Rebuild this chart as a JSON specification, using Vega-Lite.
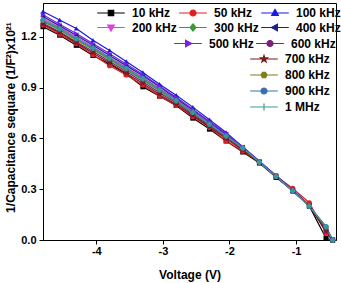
{
  "$schema": "https://vega.github.io/schema/vega-lite/v6.json",
  "autosize": {"type": "none"},
  "width": 293,
  "height": 237,
  "padding": {"left": 43, "top": 3, "right": 5, "bottom": 43},
  "data": {"values": [
    {"V": -4.8, "10 kHz": 1.26, "50 kHz": 1.27, "100 kHz": 1.35, "200 kHz": 1.31, "300 kHz": 1.29, "400 kHz": 1.32, "500 kHz": 1.33, "600 kHz": 1.28, "700 kHz": 1.275, "800 kHz": 1.295, "900 kHz": 1.30, "1 MHz": 1.30},
    {"V": -4.55, "10 kHz": 1.21, "50 kHz": 1.215, "100 kHz": 1.30, "200 kHz": 1.255, "300 kHz": 1.24, "400 kHz": 1.265, "500 kHz": 1.275, "600 kHz": 1.23, "700 kHz": 1.225, "800 kHz": 1.245, "900 kHz": 1.25, "1 MHz": 1.248},
    {"V": -4.3, "10 kHz": 1.15, "50 kHz": 1.16, "100 kHz": 1.25, "200 kHz": 1.20, "300 kHz": 1.18, "400 kHz": 1.21, "500 kHz": 1.22, "600 kHz": 1.17, "700 kHz": 1.165, "800 kHz": 1.185, "900 kHz": 1.19, "1 MHz": 1.19},
    {"V": -4.05, "10 kHz": 1.09, "50 kHz": 1.095, "100 kHz": 1.18, "200 kHz": 1.14, "300 kHz": 1.125, "400 kHz": 1.15, "500 kHz": 1.16, "600 kHz": 1.115, "700 kHz": 1.105, "800 kHz": 1.13, "900 kHz": 1.135, "1 MHz": 1.133},
    {"V": -3.8, "10 kHz": 1.04, "50 kHz": 1.03, "100 kHz": 1.12, "200 kHz": 1.08, "300 kHz": 1.065, "400 kHz": 1.09, "500 kHz": 1.10, "600 kHz": 1.055, "700 kHz": 1.045, "800 kHz": 1.07, "900 kHz": 1.075, "1 MHz": 1.073},
    {"V": -3.55, "10 kHz": 0.98, "50 kHz": 0.975, "100 kHz": 1.055, "200 kHz": 1.02, "300 kHz": 1.005, "400 kHz": 1.03, "500 kHz": 1.04, "600 kHz": 0.995, "700 kHz": 0.985, "800 kHz": 1.01, "900 kHz": 1.015, "1 MHz": 1.013},
    {"V": -3.3, "10 kHz": 0.905, "50 kHz": 0.915, "100 kHz": 0.99, "200 kHz": 0.96, "300 kHz": 0.945, "400 kHz": 0.97, "500 kHz": 0.978, "600 kHz": 0.935, "700 kHz": 0.925, "800 kHz": 0.95, "900 kHz": 0.955, "1 MHz": 0.953},
    {"V": -3.05, "10 kHz": 0.85, "50 kHz": 0.85, "100 kHz": 0.92, "200 kHz": 0.895, "300 kHz": 0.88, "400 kHz": 0.905, "500 kHz": 0.91, "600 kHz": 0.87, "700 kHz": 0.86, "800 kHz": 0.885, "900 kHz": 0.89, "1 MHz": 0.888},
    {"V": -2.8, "10 kHz": 0.795, "50 kHz": 0.795, "100 kHz": 0.855, "200 kHz": 0.83, "300 kHz": 0.815, "400 kHz": 0.838, "500 kHz": 0.843, "600 kHz": 0.81, "700 kHz": 0.80, "800 kHz": 0.82, "900 kHz": 0.825, "1 MHz": 0.823},
    {"V": -2.55, "10 kHz": 0.72, "50 kHz": 0.73, "100 kHz": 0.785, "200 kHz": 0.76, "300 kHz": 0.748, "400 kHz": 0.768, "500 kHz": 0.773, "600 kHz": 0.742, "700 kHz": 0.735, "800 kHz": 0.752, "900 kHz": 0.755, "1 MHz": 0.754},
    {"V": -2.3, "10 kHz": 0.655, "50 kHz": 0.665, "100 kHz": 0.71, "200 kHz": 0.69, "300 kHz": 0.68, "400 kHz": 0.697, "500 kHz": 0.70, "600 kHz": 0.675, "700 kHz": 0.668, "800 kHz": 0.683, "900 kHz": 0.685, "1 MHz": 0.684},
    {"V": -2.05, "10 kHz": 0.585, "50 kHz": 0.585, "100 kHz": 0.635, "200 kHz": 0.62, "300 kHz": 0.61, "400 kHz": 0.625, "500 kHz": 0.628, "600 kHz": 0.605, "700 kHz": 0.598, "800 kHz": 0.613, "900 kHz": 0.615, "1 MHz": 0.614},
    {"V": -1.8, "10 kHz": 0.52, "50 kHz": 0.525, "100 kHz": 0.55, "200 kHz": 0.545, "300 kHz": 0.54, "400 kHz": 0.548, "500 kHz": 0.55, "600 kHz": 0.537, "700 kHz": 0.532, "800 kHz": 0.542, "900 kHz": 0.545, "1 MHz": 0.544},
    {"V": -1.55, "10 kHz": 0.455, "50 kHz": 0.46, "100 kHz": 0.465, "200 kHz": 0.462, "300 kHz": 0.458, "400 kHz": 0.463, "500 kHz": 0.465, "600 kHz": 0.457, "700 kHz": 0.457, "800 kHz": 0.459, "900 kHz": 0.46, "1 MHz": 0.46},
    {"V": -1.3, "10 kHz": 0.37, "50 kHz": 0.38, "100 kHz": 0.38, "200 kHz": 0.378, "300 kHz": 0.376, "400 kHz": 0.378, "500 kHz": 0.38, "600 kHz": 0.375, "700 kHz": 0.374, "800 kHz": 0.376, "900 kHz": 0.375, "1 MHz": 0.376},
    {"V": -1.05, "10 kHz": 0.29, "50 kHz": 0.305, "100 kHz": 0.295, "200 kHz": 0.292, "300 kHz": 0.29, "400 kHz": 0.292, "500 kHz": 0.293, "600 kHz": 0.29, "700 kHz": 0.292, "800 kHz": 0.29, "900 kHz": 0.29, "1 MHz": 0.29},
    {"V": -0.8, "10 kHz": 0.20, "50 kHz": 0.22, "100 kHz": 0.205, "200 kHz": 0.202, "300 kHz": 0.20, "400 kHz": 0.203, "500 kHz": 0.204, "600 kHz": 0.20, "700 kHz": 0.205, "800 kHz": 0.20, "900 kHz": 0.20, "1 MHz": 0.20},
    {"V": -0.55, "10 kHz": 0.01, "50 kHz": 0.04, "100 kHz": 0.06, "200 kHz": 0.07, "300 kHz": 0.07, "400 kHz": 0.06, "500 kHz": 0.05, "600 kHz": 0.06, "700 kHz": 0.05, "800 kHz": 0.075, "900 kHz": 0.08, "1 MHz": 0.08},
    {"V": -0.45, "10 kHz": 0, "50 kHz": 0, "100 kHz": 0, "200 kHz": 0, "300 kHz": 0, "400 kHz": 0, "500 kHz": 0, "600 kHz": 0, "700 kHz": 0, "800 kHz": 0, "900 kHz": 0, "1 MHz": 0}
  ]},
  "transform": [
    {"fold": ["10 kHz", "50 kHz", "100 kHz", "200 kHz", "300 kHz", "400 kHz", "500 kHz", "600 kHz", "700 kHz", "800 kHz", "900 kHz", "1 MHz"], "as": ["freq", "C"]}
  ],
  "encoding": {
    "x": {"field": "V", "type": "quantitative", "scale": {"domain": [-4.8, -0.4], "nice": false, "zero": false},
      "axis": {"title": "Voltage (V)", "values": [-4, -3, -2, -1], "labelExpr": "toString(datum.value)", "grid": false, "tickSize": 4, "labelPadding": 1, "titlePadding": 13}},
    "y": {"field": "C", "type": "quantitative", "scale": {"domain": [0, 1.4], "nice": false},
      "axis": {"title": "1/Capacitance sequare (1/F²)x10²¹", "values": [0, 0.3, 0.6, 0.9, 1.2], "format": ".1f", "grid": false, "tickSize": 4, "labelPadding": 3, "titlePadding": 3, "titleY": 114}}
  },
  "layer": [
    {
      "layer": [
        {"mark": {"type": "line", "strokeWidth": 1.2},
         "encoding": {"color": {"field": "freq", "type": "nominal", "legend": null,
            "scale": {"domain": ["10 kHz", "50 kHz", "100 kHz", "200 kHz", "300 kHz", "400 kHz", "500 kHz", "600 kHz", "700 kHz", "800 kHz", "900 kHz", "1 MHz"],
                      "range": ["#000000", "#e02020", "#1a1ae0", "#e040e0", "#3c9a3c", "#202080", "#7b1fe8", "#7a1f7a", "#7a1a1a", "#7f7f1a", "#3a6eb0", "#3a9a9a"]}}}},
        {"mark": {"type": "point", "filled": true, "size": 26, "opacity": 1},
         "encoding": {"color": {"field": "freq", "type": "nominal", "legend": null,
            "scale": {"domain": ["10 kHz", "50 kHz", "100 kHz", "200 kHz", "300 kHz", "400 kHz", "500 kHz", "600 kHz", "700 kHz", "800 kHz", "900 kHz", "1 MHz"],
                      "range": ["#000000", "#e02020", "#1a1ae0", "#e040e0", "#3c9a3c", "#202080", "#7b1fe8", "#7a1f7a", "#7a1a1a", "#7f7f1a", "#3a6eb0", "#3a9a9a"]}},
           "shape": {"field": "freq", "type": "nominal", "legend": null,
            "scale": {"domain": ["10 kHz", "50 kHz", "100 kHz", "200 kHz", "300 kHz", "400 kHz", "500 kHz", "600 kHz", "700 kHz", "800 kHz", "900 kHz", "1 MHz"],
                      "range": ["square", "circle", "triangle-up", "triangle-down", "diamond", "triangle-left", "triangle-right", "circle", "M0,-1.2L0.28,-0.37L1.14,-0.37L0.45,0.14L0.71,0.97L0,0.46L-0.71,0.97L-0.45,0.14L-1.14,-0.37L-0.28,-0.37Z", "M1,0L0.5,0.87L-0.5,0.87L-1,0L-0.5,-0.87L0.5,-0.87Z", "circle", "cross"]}}}}
      ]
    },
    {
      "transform": [{"filter": {"field": "freq", "oneOf": ["10 kHz", "50 kHz", "100 kHz", "200 kHz", "300 kHz", "400 kHz"]}}],
      "mark": {"type": "point", "filled": true, "opacity": 0, "size": 36},
      "encoding": {
        "fill": {"field": "freq", "type": "nominal",
          "scale": {"domain": ["10 kHz", "50 kHz", "100 kHz", "200 kHz", "300 kHz", "400 kHz"], "range": ["#000000", "#e02020", "#1a1ae0", "#e040e0", "#3c9a3c", "#202080"]},
          "legend": {"title": null, "orient": "none", "direction": "horizontal", "legendX": 62, "legendY": 4, "columns": 3, "columnPadding": -1, "rowPadding": 2.5, "padding": 0, "symbolOpacity": 1, "symbolSize": 36, "symbolStrokeWidth": 1.2, "labelOffset": 15, "encode": {"symbols": {"update": {"opacity": {"value": 1}}}}}},
        "stroke": {"field": "freq", "type": "nominal",
          "scale": {"domain": ["10 kHz", "50 kHz", "100 kHz", "200 kHz", "300 kHz", "400 kHz"], "range": ["#000000", "#e02020", "#1a1ae0", "#e040e0", "#3c9a3c", "#202080"]},
          "legend": {"title": null, "orient": "none", "direction": "horizontal", "legendX": 62, "legendY": 4, "columns": 3, "columnPadding": -1, "rowPadding": 2.5, "padding": 0, "symbolOpacity": 1, "symbolSize": 36, "symbolStrokeWidth": 1.2, "labelOffset": 15, "encode": {"symbols": {"update": {"opacity": {"value": 1}}}}}},
        "shape": {"field": "freq", "type": "nominal",
          "scale": {"domain": ["10 kHz", "50 kHz", "100 kHz", "200 kHz", "300 kHz", "400 kHz"],
            "range": ["M-4.6,0H4.6M-0.9,-0.9H0.9V0.9H-0.9Z", "M-4.6,0H4.6M1,0A1,1,0,1,1,-1,0A1,1,0,1,1,1,0Z", "M-4.6,0H4.6M0,-1.2L1.1,0.8H-1.1Z", "M-4.6,0H4.6M0,1.2L1.1,-0.8H-1.1Z", "M-4.6,0H4.6M0,-1.2L1,0L0,1.2L-1,0Z", "M-4.6,0H4.6M-1.2,0L0.8,-1.1V1.1Z"]},
          "legend": {"title": null, "orient": "none", "direction": "horizontal", "legendX": 62, "legendY": 4, "columns": 3, "columnPadding": -1, "rowPadding": 2.5, "padding": 0, "symbolOpacity": 1, "symbolSize": 36, "symbolStrokeWidth": 1.2, "labelOffset": 15, "encode": {"symbols": {"update": {"opacity": {"value": 1}}}}}}
      }
    },
    {
      "transform": [{"filter": {"field": "freq", "oneOf": ["500 kHz", "600 kHz"]}}],
      "mark": {"type": "point", "filled": true, "opacity": 0, "size": 36},
      "encoding": {
        "fill": {"field": "freq", "type": "nominal",
          "scale": {"domain": ["500 kHz", "600 kHz"], "range": ["#7b1fe8", "#7a1f7a"]},
          "legend": {"title": null, "orient": "none", "direction": "horizontal", "legendX": 139, "legendY": 34.5, "columns": 2, "columnPadding": -1, "rowPadding": 3.5, "padding": 0, "symbolOpacity": 1, "symbolSize": 36, "symbolStrokeWidth": 1.2, "labelOffset": 15, "encode": {"symbols": {"update": {"opacity": {"value": 1}}}}}},
        "stroke": {"field": "freq", "type": "nominal",
          "scale": {"domain": ["500 kHz", "600 kHz"], "range": ["#7b1fe8", "#7a1f7a"]},
          "legend": {"title": null, "orient": "none", "direction": "horizontal", "legendX": 139, "legendY": 34.5, "columns": 2, "columnPadding": -1, "rowPadding": 3.5, "padding": 0, "symbolOpacity": 1, "symbolSize": 36, "symbolStrokeWidth": 1.2, "labelOffset": 15, "encode": {"symbols": {"update": {"opacity": {"value": 1}}}}}},
        "shape": {"field": "freq", "type": "nominal",
          "scale": {"domain": ["500 kHz", "600 kHz"],
            "range": ["M-4.6,0H4.6M1.2,0L-0.8,-1.1V1.1Z", "M-4.6,0H4.6M1,0A1,1,0,1,1,-1,0A1,1,0,1,1,1,0Z"]},
          "legend": {"title": null, "orient": "none", "direction": "horizontal", "legendX": 139, "legendY": 34.5, "columns": 2, "columnPadding": -1, "rowPadding": 3.5, "padding": 0, "symbolOpacity": 1, "symbolSize": 36, "symbolStrokeWidth": 1.2, "labelOffset": 15, "encode": {"symbols": {"update": {"opacity": {"value": 1}}}}}}
      }
    },
    {
      "transform": [{"filter": {"field": "freq", "oneOf": ["700 kHz", "800 kHz", "900 kHz", "1 MHz"]}}],
      "mark": {"type": "point", "filled": true, "opacity": 0, "size": 36},
      "encoding": {
        "fill": {"field": "freq", "type": "nominal",
          "scale": {"domain": ["700 kHz", "800 kHz", "900 kHz", "1 MHz"], "range": ["#7a1a1a", "#7f7f1a", "#3a6eb0", "#3a9a9a"]},
          "legend": {"title": null, "orient": "none", "legendX": 215, "legendY": 50, "columns": 1, "rowPadding": 4, "padding": 0, "symbolOpacity": 1, "symbolSize": 36, "symbolStrokeWidth": 1.2, "labelOffset": 15, "encode": {"symbols": {"update": {"opacity": {"value": 1}}}}}},
        "stroke": {"field": "freq", "type": "nominal",
          "scale": {"domain": ["700 kHz", "800 kHz", "900 kHz", "1 MHz"], "range": ["#7a1a1a", "#7f7f1a", "#3a6eb0", "#3a9a9a"]},
          "legend": {"title": null, "orient": "none", "legendX": 215, "legendY": 50, "columns": 1, "rowPadding": 4, "padding": 0, "symbolOpacity": 1, "symbolSize": 36, "symbolStrokeWidth": 1.2, "labelOffset": 15, "encode": {"symbols": {"update": {"opacity": {"value": 1}}}}}},
        "shape": {"field": "freq", "type": "nominal",
          "scale": {"domain": ["700 kHz", "800 kHz", "900 kHz", "1 MHz"],
            "range": ["M-4.6,0H4.6M0,-1.2L0.28,-0.37L1.14,-0.37L0.45,0.14L0.71,0.97L0,0.46L-0.71,0.97L-0.45,0.14L-1.14,-0.37L-0.28,-0.37Z", "M-4.6,0H4.6M1,0L0.5,0.87L-0.5,0.87L-1,0L-0.5,-0.87L0.5,-0.87Z", "M-4.6,0H4.6M1,0A1,1,0,1,1,-1,0A1,1,0,1,1,1,0Z", "M-4.6,0H4.6M0,-1.2V1.2"]},
          "legend": {"title": null, "orient": "none", "legendX": 215, "legendY": 50, "columns": 1, "rowPadding": 4, "padding": 0, "symbolOpacity": 1, "symbolSize": 36, "symbolStrokeWidth": 1.2, "labelOffset": 15, "encode": {"symbols": {"update": {"opacity": {"value": 1}}}}}}
      }
    }
  ],
  "resolve": {"scale": {"color": "independent", "fill": "independent", "stroke": "independent", "shape": "independent"}},
  "config": {
    "font": "Liberation Sans",
    "view": {"stroke": "#000000", "strokeWidth": 1},
    "axis": {"domainColor": "#000000", "tickColor": "#000000", "labelColor": "#000000", "titleColor": "#000000",
      "labelFont": "Liberation Sans", "labelFontSize": 11, "labelFontWeight": "bold",
      "titleFont": "Liberation Sans", "titleFontSize": 12, "titleFontWeight": "bold"},
    "legend": {"labelFont": "Liberation Sans", "labelFontSize": 12, "labelFontWeight": "bold", "labelColor": "#000000"}
  }
}
